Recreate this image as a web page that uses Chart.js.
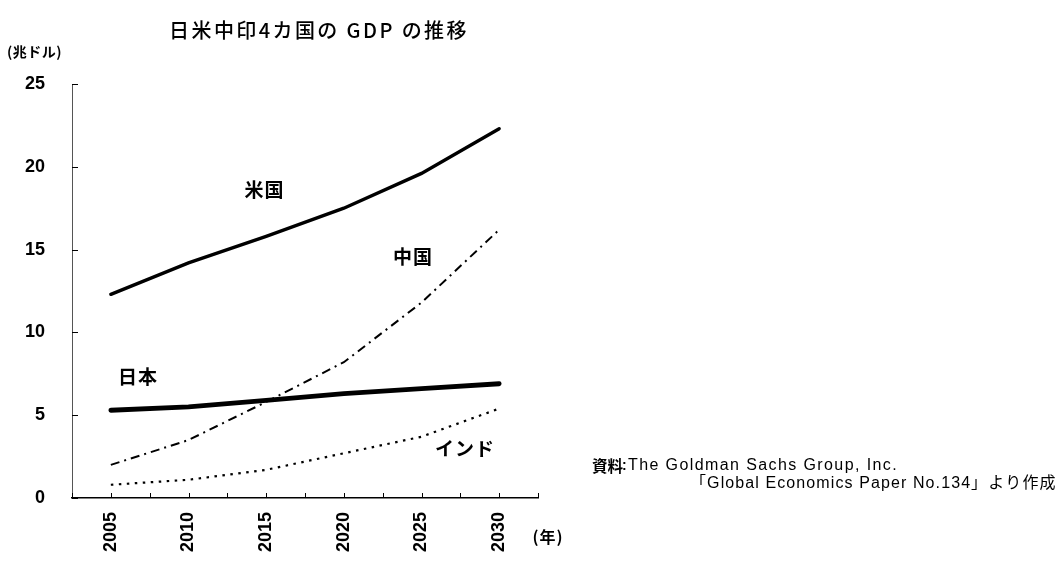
<!DOCTYPE html>
<html lang="ja">
<head>
<meta charset="utf-8">
<title>日米中印4カ国の GDP の推移</title>
<script src="https://cdn.jsdelivr.net/npm/chart.js@4/dist/chart.umd.min.js"></script>
<style>
  html, body { margin: 0; padding: 0; background: #fff; }
  #wrap { width: 1063px; height: 561px; position: relative; }
</style>
</head>
<body>
<div id="wrap"><canvas id="gdp"></canvas></div>
<script>
// GDP (trillion USD), 5-year steps
const years = [2005, 2010, 2015, 2020, 2025, 2030];
const usGdp = [12.3, 14.2, 15.8, 17.5, 19.6, 22.3];
const japanGdp = [5.3, 5.5, 5.9, 6.3, 6.6, 6.9];
const chinaGdp = [2.0, 3.5, 5.8, 8.2, 11.8, 16.2];
const indiaGdp = [0.8, 1.1, 1.7, 2.7, 3.7, 5.4];

const yearLabels = [2005, 2010, 2015, 2020, 2025, 2030];

const pts = vals => years.map((y, i) => ({ x: y, y: vals[i] }));

const JP = '"Noto Sans CJK JP", "Noto Sans", sans-serif';
const NUM = '"Liberation Sans", Arial, sans-serif';
const NOTE = '"Liberation Sans", "Noto Sans CJK JP", sans-serif';

function drawText(c, text, x, y, font, opts = {}) {
    c.save();
    c.font = font;
    c.fillStyle = '#000';
    c.textAlign = opts.align || 'center';
    c.textBaseline = 'middle';
    if (opts.spacing) c.letterSpacing = opts.spacing + 'px';
    c.translate(x, y);
    if (opts.sx) c.scale(opts.sx, 1);
    c.fillText(text, 0, 0);
    c.restore();
}

// short tick marks pointing into the plot area
const innerTicks = {
    id: 'innerTicks',
    afterDraw(chart) {
        const { ctx: c, chartArea, scales } = chart;
        c.save();
        c.strokeStyle = '#000';
        c.lineWidth = 1;
        scales.y.ticks.forEach((t, i) => {
            const py = Math.round(scales.y.getPixelForTick(i)) + 0.5;
            c.beginPath(); c.moveTo(chartArea.left, py); c.lineTo(chartArea.left + 6, py); c.stroke();
        });
        scales.x.ticks.forEach((t, i) => {
            const px = Math.round(scales.x.getPixelForTick(i)) + 0.5;
            c.beginPath(); c.moveTo(px, chartArea.bottom); c.lineTo(px, chartArea.bottom - 5); c.stroke();
        });
        c.restore();
    }
};

// title, units, series names, source note
const textLayer = {
    id: 'textLayer',
    afterDraw(chart) {
        const { ctx: c, scales } = chart;
        const at = (x, y) => [scales.x.getPixelForValue(x), scales.y.getPixelForValue(y)];

        drawText(c, '日米中印4カ国の GDP の推移', 319, 30, '500 20px ' + JP, { spacing: 2.4 });
        drawText(c, '(兆ドル)', 7, 52, 'bold 14px ' + JP, { align: 'left', spacing: 0.5 });
        drawText(c, '(年)', 548, 537, 'bold 16px ' + JP, { spacing: 1 });

        const seriesNames = [
            ['米国', 2014.9, 18.6],
            ['中国', 2024.45, 14.55],
            ['日本', 2006.75, 7.3],
            ['インド', 2027.8, 3.0],
        ];
        seriesNames.forEach(([name, x, y]) => {
            const [px, py] = at(x, y);
            drawText(c, name, px, py, 'bold 19px ' + JP, { spacing: 1 });
        });

        drawText(c, '資料', 592, 466, 'bold 15.5px ' + JP, { align: 'left' });
        drawText(c, ':', 622, 466, 'bold 14px ' + NUM, { align: 'left' });
        drawText(c, 'The Goldman Sachs Group, Inc.', 628, 466, '16px ' + NOTE, { align: 'left', spacing: 1.4 });
        drawText(c, '「Global Economics Paper No.134」より作成', 690, 484, '16px ' + NOTE, { align: 'left', spacing: 1.1 });
    }
};

new Chart(document.getElementById('gdp'), {
    type: 'line',
    data: {
        datasets: [
            { label: '米国', data: pts(usGdp), borderColor: '#000', borderWidth: 3.4, borderCapStyle: 'round' },
            { label: '日本', data: pts(japanGdp), borderColor: '#000', borderWidth: 4.8, borderCapStyle: 'round' },
            { label: '中国', data: pts(chinaGdp), borderColor: '#000', borderWidth: 2, borderDash: [9, 5, 2, 5] },
            { label: 'インド', data: pts(indiaGdp), borderColor: '#000', borderWidth: 2.2, borderDash: [2.5, 5.5] },
        ]
    },
    options: {
        responsive: true,
        maintainAspectRatio: false,
        animation: false,
        elements: { point: { radius: 0 }, line: { tension: 0, fill: false } },
        layout: { padding: { top: 84, right: 525, left: 0, bottom: 0 } },
        plugins: { legend: { display: false }, title: { display: false }, tooltip: { enabled: false } },
        scales: {
            x: {
                type: 'linear',
                min: 2002.5,
                max: 2032.5,
                afterFit(scale) { scale.height = 63; },
                border: { display: true, color: '#000', width: 1.5 },
                grid: { display: false, drawTicks: false },
                ticks: {
                    stepSize: 2.5,
                    autoSkip: false,
                    minRotation: 90,
                    maxRotation: 90,
                    padding: 14,
                    color: '#000',
                    font: { family: NUM, size: 18, weight: 'bold' },
                    callback: v => (yearLabels.includes(v) ? String(v) : '')
                }
            },
            y: {
                min: 0,
                max: 25,
                afterFit(scale) { scale.width = 72; },
                border: { display: true, color: '#555', width: 1 },
                grid: { display: false, drawTicks: false },
                ticks: {
                    stepSize: 5,
                    padding: 27,
                    color: '#000',
                    font: { family: NUM, size: 18, weight: 'bold' }
                }
            }
        }
    },
    plugins: [innerTicks, textLayer]
});
</script>
</body>
</html>
